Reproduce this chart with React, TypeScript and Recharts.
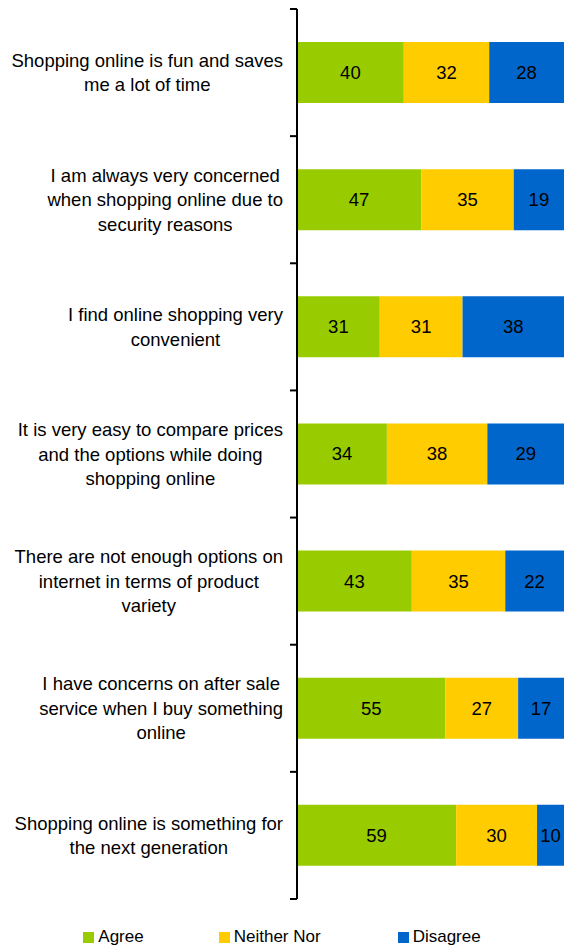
import React from "react";
import { BarChart, Bar, XAxis, YAxis, Legend, LabelList } from "recharts";

const categories = [
  "Shopping online is fun and saves me a lot of time",
  "I am always very concerned when shopping online due to security reasons",
  "I find online shopping very convenient",
  "It is very easy to compare prices and the options while doing shopping online",
  "There are not enough options on internet in terms of product variety",
  "I have concerns on after sale service when I buy something online",
  "Shopping online is something for the next generation",
];

const tickLabelLines = [
  ["Shopping online is fun and saves", "me a lot of time"],
  ["I am always very concerned", "when shopping online due to", "security reasons"],
  ["I find online shopping very", "convenient"],
  ["It is very easy to compare prices", "and the options while doing", "shopping online"],
  ["There are not enough options on", "internet in terms of product", "variety"],
  ["I have concerns on after sale", "service when I buy something", "online"],
  ["Shopping online is something for", "the next generation"],
];

const agree = [40, 47, 31, 34, 43, 55, 59];
const neitherNor = [32, 35, 31, 38, 35, 27, 30];
const disagree = [28, 19, 38, 29, 22, 17, 10];

const seriesKeys = ["agree", "neither", "disagree"];
const seriesNames = ["Agree", "Neither Nor", "Disagree"];
const colors = ["#99CC00", "#FFCC00", "#0066CC"];

const data = categories.map((c, i) => ({
  category: c,
  agree: agree[i],
  neither: neitherNor[i],
  disagree: disagree[i],
}));

const FONT = "'Liberation Sans', Arial, sans-serif";
const LABEL_SIZE = 18.5;
const LINE_H = 24.3;
const TICK_SIZE = 7;
const TICK_MARGIN = 7;
const legendGaps = [0, 75, 77];

let ctx: CanvasRenderingContext2D | null = null;
function measure(text: string): number {
  if (!ctx) {
    const c = document.createElement("canvas");
    ctx = c.getContext("2d");
  }
  if (!ctx) return text.length * 9;
  ctx.font = `${LABEL_SIZE}px ${FONT}`;
  return ctx.measureText(text).width;
}

const CategoryTick = (props: any) => {
  const { x, y, payload } = props;
  const idx = categories.indexOf(payload.value);
  const lines = tickLabelLines[idx] || [String(payload.value)];
  const maxW = Math.max(...lines.map(measure));
  const cx = x - maxW / 2;
  const n = lines.length;
  const half = payload.offset ?? 890 / 7 / 2;
  const axisX = x + TICK_MARGIN + TICK_SIZE;
  return (
    <g>
      <text x={cx} y={y} textAnchor="middle" fontFamily={FONT} fontSize={LABEL_SIZE} fill="#000">
        {lines.map((l, i) => (
          <tspan key={i} x={cx} y={y + (i - (n - 1) / 2) * LINE_H} dominantBaseline="central">
            {l}
          </tspan>
        ))}
      </text>
      <line x1={axisX - TICK_SIZE} x2={axisX} y1={y - half} y2={y - half} stroke="#000" strokeWidth={2} />
      {idx === categories.length - 1 && (
        <line x1={axisX - TICK_SIZE} x2={axisX} y1={y + half} y2={y + half} stroke="#000" strokeWidth={2} />
      )}
    </g>
  );
};

const LegendContent = () => (
  <div
    style={{
      height: 51,
      paddingTop: 28,
      boxSizing: "border-box",
      display: "flex",
      justifyContent: "center",
      alignItems: "flex-start",
      fontFamily: FONT,
      fontSize: 17,
      color: "#000",
      lineHeight: "20px",
    }}
  >
    {seriesNames.map((name, i) => (
      <div key={name} style={{ display: "flex", alignItems: "center", height: 20, marginLeft: legendGaps[i] }}>
        <span style={{ width: 11, height: 11, background: colors[i], display: "inline-block", marginRight: 4 }} />
        <span style={{ whiteSpace: "nowrap" }}>{name}</span>
      </div>
    ))}
  </div>
);

const labelStyle = { fontFamily: FONT, fontSize: 18.5, fill: "#000" };

export default function App() {
  return (
    <div style={{ position: "absolute", left: 0, top: 0 }}>
      <BarChart
        width={564}
        height={950}
        data={data}
        layout="vertical"
        stackOffset="expand"
        margin={{ top: 9, right: 0, bottom: 0, left: 0 }}
      >
        <XAxis type="number" hide domain={[0, 1]} />
        <YAxis
          type="category"
          dataKey="category"
          width={297}
          axisLine={{ stroke: "#000", strokeWidth: 2 }}
          tickLine={false}
          tickSize={TICK_SIZE}
          tickMargin={TICK_MARGIN}
          interval={0}
          tick={<CategoryTick />}
        />
        <Legend verticalAlign="bottom" content={<LegendContent />} />
        {seriesKeys.map((k, i) => (
          <Bar
            key={k}
            dataKey={k}
            name={seriesNames[i]}
            stackId="s"
            fill={colors[i]}
            barSize={61}
            isAnimationActive={false}
          >
            <LabelList dataKey={k} position="center" style={labelStyle} />
          </Bar>
        ))}
      </BarChart>
    </div>
  );
}
